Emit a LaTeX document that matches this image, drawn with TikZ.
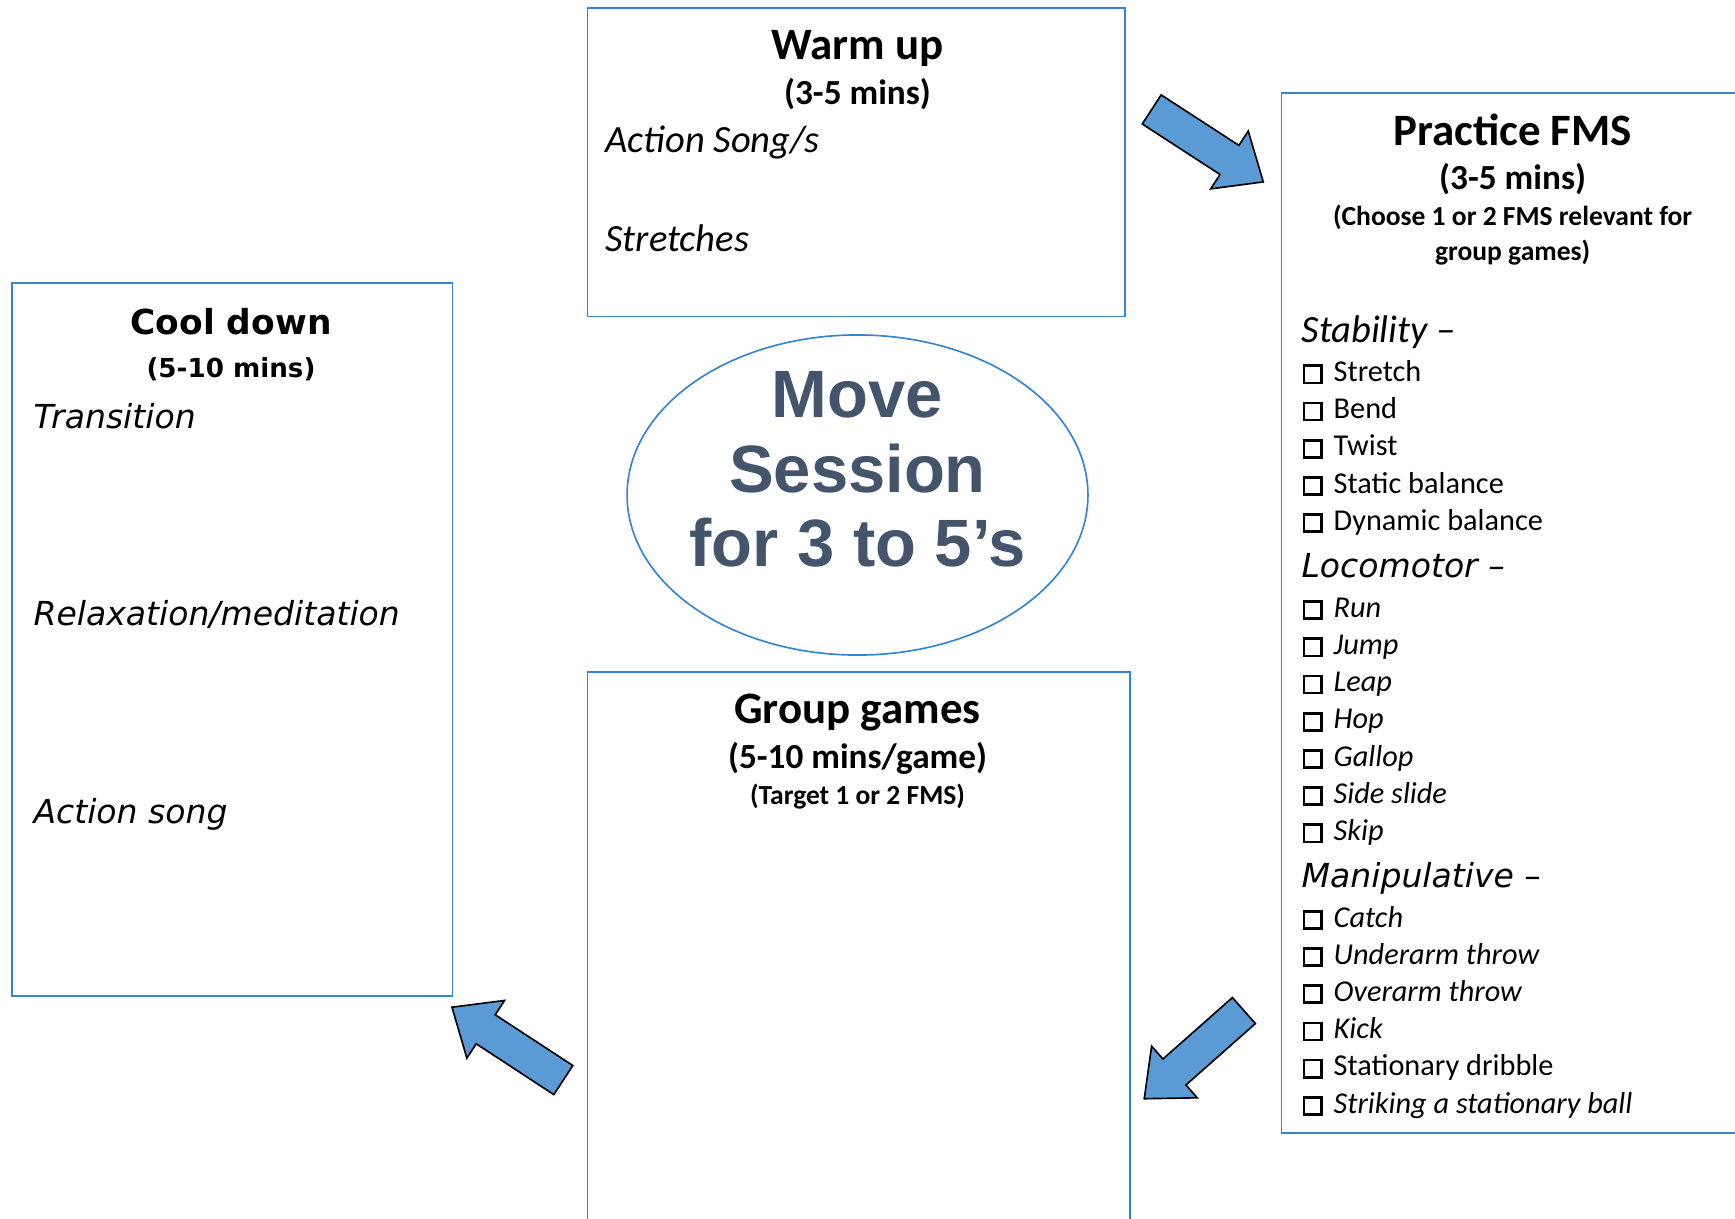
\documentclass[tikz,border=0pt]{standalone}
\usepackage{fontspec}
\usepackage{tikz}
\usetikzlibrary{shapes.geometric}
\usetikzlibrary{shapes.arrows}
\usetikzlibrary{fit}
\setmainfont{Carlito}
\newfontfamily\widefont{DejaVu Sans}
\newfontfamily\ovalfont{Liberation Sans}
\definecolor{boxline}{RGB}{52,132,214}
\definecolor{arrowfill}{RGB}{91,155,213}
\definecolor{ovaltext}{RGB}{68,84,106}
\newcommand{\tickbox}{{\fboxsep=0pt\fboxrule=1pt\fbox{\rule{0pt}{5.2pt}\hspace{5.4pt}}}\hspace{3.9pt}}

\tikzset{
  panel/.style={draw=boxline, line width=0.7pt, inner sep=0pt},
  title/.style={font=\fontsize{16.3}{19}\selectfont\bfseries, anchor=base, inner sep=0pt},
  sub/.style={font=\fontsize{12.8}{15}\selectfont\bfseries, anchor=base, inner sep=0pt},
  note/.style={font=\fontsize{10}{12}\selectfont\bfseries, anchor=base, inner sep=0pt},
  entry/.style={font=\fontsize{14}{17}\selectfont\itshape, anchor=base west, inner sep=0pt},
  wideentry/.style={font=\widefont\fontsize{12}{15}\selectfont\itshape, anchor=base west, inner sep=0pt},
  itemup/.style={font=\fontsize{11}{13}\selectfont, anchor=base west, inner sep=0pt},
  itemit/.style={font=\fontsize{11}{13}\selectfont\itshape, anchor=base west, inner sep=0pt},
  blockarrow/.style={single arrow, draw=black, fill=arrowfill, line width=0.6pt,
    minimum height=48.3pt, inner xsep=0pt, inner ysep=6pt, single arrow head extend=6.2pt,
    single arrow tip angle=81, anchor=tail}
}

\begin{document}
\begin{tikzpicture}[x=0.363pt, y=-0.363pt]
\useasboundingbox (0,0) rectangle (1735,1218);

% boxes
\node[panel, fit={(587.5,7.7) (1125,316.5)}] (warmup) {};
\node[panel, fit={(1281.5,93) (1780,1133)}] (fms) {};
\node[panel, fit={(587.5,671.6) (1130,1260)}] (games) {};
\node[panel, fit={(12.2,283) (452.5,996)}] (cooldown) {};
\node[draw=boxline, line width=0.6pt, ellipse, minimum width=167.3pt, minimum height=116.2pt, inner sep=0pt] (hub) at (857.5,495) {};

% centre
\node[font=\ovalfont\fontsize{24.3}{27}\selectfont\bfseries, text=ovaltext, align=center, inner sep=0pt]
  (hubtext) at ([yshift=9.2pt]hub.center) {Move\\Session\\for 3 to 5’s};

% warm up
\node[title] (warmtitle) at (857.5,59) {Warm up};
\node[sub] (warmtime) at (857.5,104) {(3-5 mins)};
\node[entry] (warmA) at (605,152.7) {Action Song/s};
\node[entry] (warmB) at (605,251) {Stretches};

% practice FMS
\node[title] (fmstitle) at (1512.6,145) {Practice FMS};
\node[sub] (fmstime) at (1512.6,189) {(3-5 mins)};
\node[note] (fmsnoteA) at (1512.6,225.5) {(Choose 1 or 2 FMS relevant for};
\node[note] (fmsnoteB) at (1512.6,260.5) {group games)};
\node[entry] (stab) at (1301,342) {Stability –};
\foreach \name [count=\i from 0] in {Stretch, Bend, Twist, Static balance, Dynamic balance}
  \node[itemup] (stab\i) at (1302,{381.5+37.2*\i}) {\tickbox\name};
\node[wideentry] (loco) at (1301,577.5) {Locomotor –};
\foreach \name [count=\i from 0] in {Run, Jump, Leap, Hop, Gallop, Side slide, Skip}
  \node[itemit] (loco\i) at (1302,{617.3+37.2*\i}) {\tickbox\name};
\node[wideentry] (mani) at (1301,887.5) {Manipulative –};
\foreach \name/\s [count=\i from 0] in {Catch/itemit, Underarm throw/itemit, Overarm throw/itemit,
    Kick/itemit, Stationary dribble/itemup, Striking a stationary ball/itemit}
  \node[\s] (mani\i) at (1302,{927+37.2*\i}) {\tickbox\name};

% group games
\node[title] (gamestitle) at (857.5,723) {Group games};
\node[sub] (gamestime) at (857.5,768.5) {(5-10 mins/game)};
\node[note] (gamesnote) at (857.5,804.5) {(Target 1 or 2 FMS)};

% cool down
\node[font=\widefont\fontsize{12.5}{15}\selectfont\bfseries, anchor=base, inner sep=0pt] (cooltitle) at (231,334) {Cool down};
\node[font=\widefont\fontsize{9.5}{12}\selectfont\bfseries, anchor=base, inner sep=0pt] (cooltime) at (231,377) {(5-10 mins)};
\node[wideentry] (coolA) at (33,428) {Transition};
\node[wideentry] (coolB) at (33,625) {Relaxation/meditation};
\node[wideentry] (coolC) at (33,823) {Action song};

% arrows
\node[blockarrow, rotate=-33] (toFms) at (1151,109) {};
\node[blockarrow, rotate=-138.5] (toGames) at (1244.5,1010) {};
\node[blockarrow, rotate=146.8] (toCool) at (564,1080.5) {};
\end{tikzpicture}
\end{document}
